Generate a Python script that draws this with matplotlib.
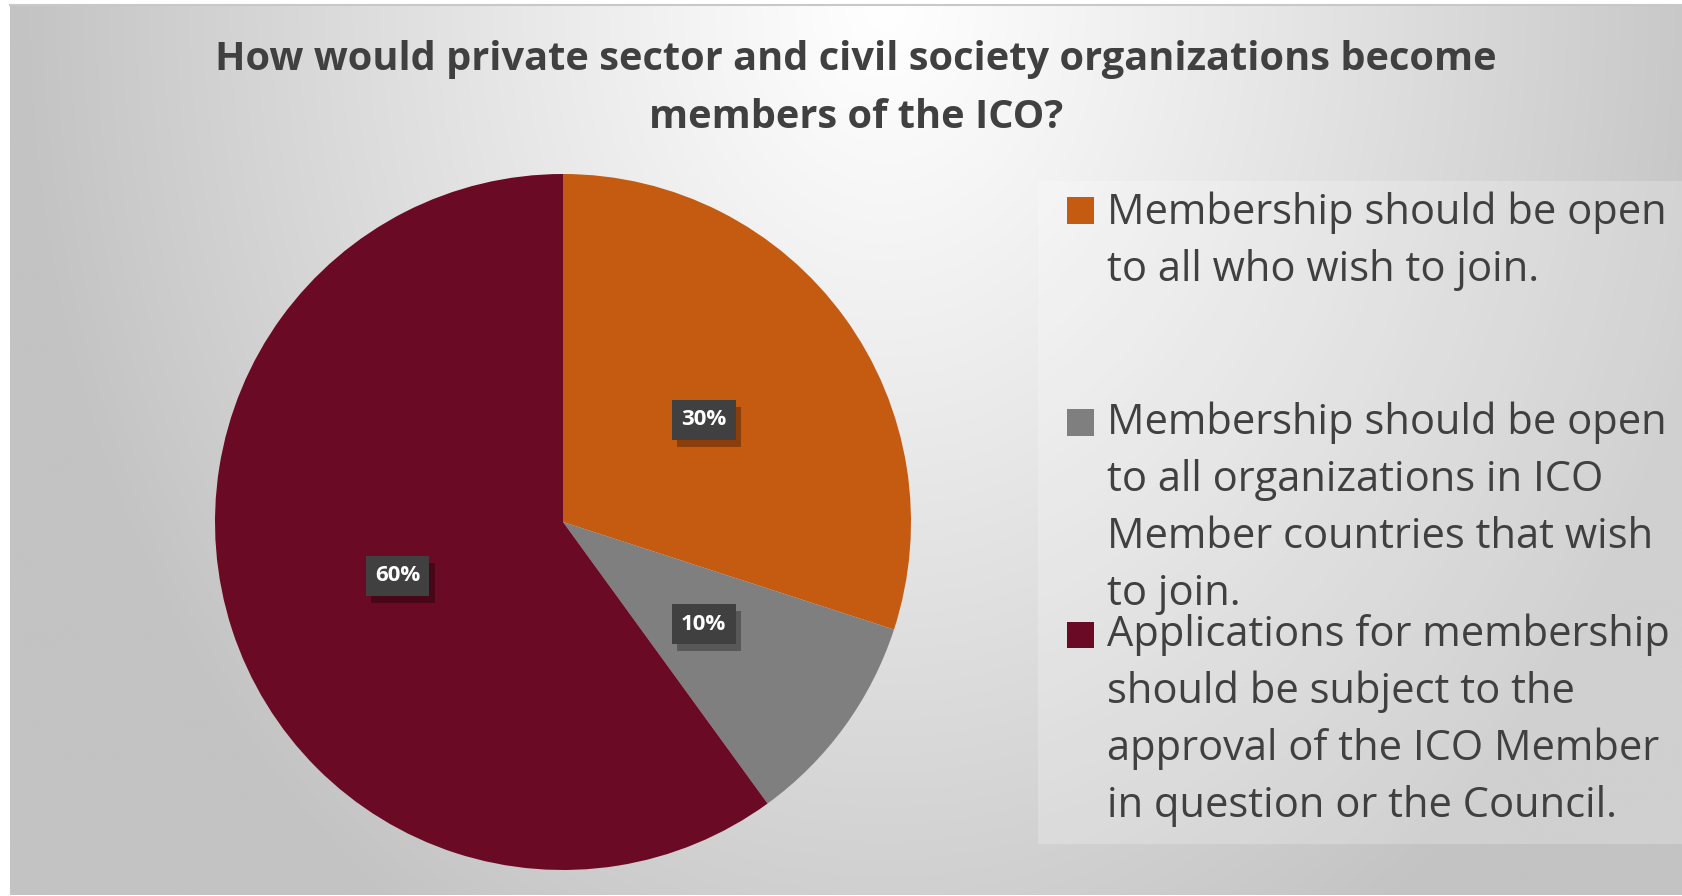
import numpy as np
import matplotlib.pyplot as plt
import matplotlib.patheffects as pe
from matplotlib.patches import Rectangle

# Data
title_lines = ['How would private sector and civil society organizations become',
               'members of the ICO?']
shares = [30, 10, 60]
colors = ['#C55A11', '#7F7F7F', '#6B0A24']
legend_lines = [
    ['Membership should be open', 'to all who wish to join.'],
    ['Membership should be open', 'to all organizations in ICO',
     'Member countries that wish', 'to join.'],
    ['Applications for membership', 'should be subject to the',
     'approval of the ICO Member', 'in question or the Council.'],
]

FONT = ['Open Sans', 'DejaVu Sans']
W, H = 1682, 896
fig = plt.figure(figsize=(W / 100, H / 100), dpi=100)
fig.patch.set_facecolor('white')

# background panel with radial gradient
bg = fig.add_axes([0, 0, 1, 1])
bg.set_xlim(0, W)
bg.set_ylim(H, 0)
bg.axis('off')
yy, xx = np.mgrid[0:H, 0:W]
d = np.sqrt(((xx - 880) / 900.0) ** 2 + (yy / 1150.0) ** 2)
val = np.clip(255 - 62 * d ** 1.1, 195, 255) / 255.0
img = np.dstack([val, val, val])
bg.imshow(img, extent=[10, W, H - 1, 5], aspect='auto', interpolation='bilinear')
bg.plot([10, W], [5, 5], color='#c8c8c8', lw=1.5)
# legend box (slightly lighter)
bg.add_patch(Rectangle((1038, 181), W - 1038, 844 - 181, facecolor='white',
                       alpha=0.22, edgecolor='none'))

# title
for i, line in enumerate(title_lines):
    bg.text(856, 70 + i * 58, line, ha='center', va='baseline', fontsize=28.6,
            fontweight='bold', color='#404040', family=FONT)

# legend
sq_tops = [197.5, 409.5, 621.6]
base0 = [223.7, 433.6, 645.7]
for k, lines in enumerate(legend_lines):
    bg.add_patch(Rectangle((1067, sq_tops[k]), 27, 26.5, facecolor=colors[k],
                           edgecolor='none'))
    for j, line in enumerate(lines):
        bg.text(1107, base0[k] + j * 57, line, ha='left', va='baseline',
                fontsize=30, color='#404040', family=FONT)

# pie
cx, cy, r = 563, 522, 348
ax = fig.add_axes([(cx - r) / W, 1 - (cy + r) / H, 2 * r / W, 2 * r / H])
ax.set_facecolor('none')
plt.rcParams['hatch.color'] = '#5a5a5a'
plt.rcParams['hatch.linewidth'] = 2.5
wedges, texts, autotexts = ax.pie(
    shares, colors=colors, startangle=90, counterclock=False,
    autopct='%d%%', pctdistance=0.5, radius=1,
    textprops=dict(color='white', fontsize=16, fontweight='bold', family=FONT))
ax.set_xlim(-1, 1)
ax.set_ylim(-1, 1)

for t in autotexts:
    t.set_zorder(5)
    t.set_bbox(dict(boxstyle='square,pad=0.42', facecolor='#404040',
                    edgecolor='none', linewidth=0))
    t.get_bbox_patch().set_path_effects([
        pe.SimplePatchShadow(offset=(4, -5), shadow_rgbFace='black', alpha=0.3),
        pe.Normal()])

# dotted texture on the label boxes
fig.canvas.draw()
inv = ax.transData.inverted()
for t in autotexts:
    ext = t.get_bbox_patch().get_window_extent()
    (x0, y0), (x1, y1) = inv.transform([[ext.x0, ext.y0], [ext.x1, ext.y1]])
    ax.add_patch(Rectangle((x0, y0), x1 - x0, y1 - y0, facecolor='none',
                           edgecolor='none', hatch='..', zorder=4.5))

fig.savefig('out.png', dpi=100)
